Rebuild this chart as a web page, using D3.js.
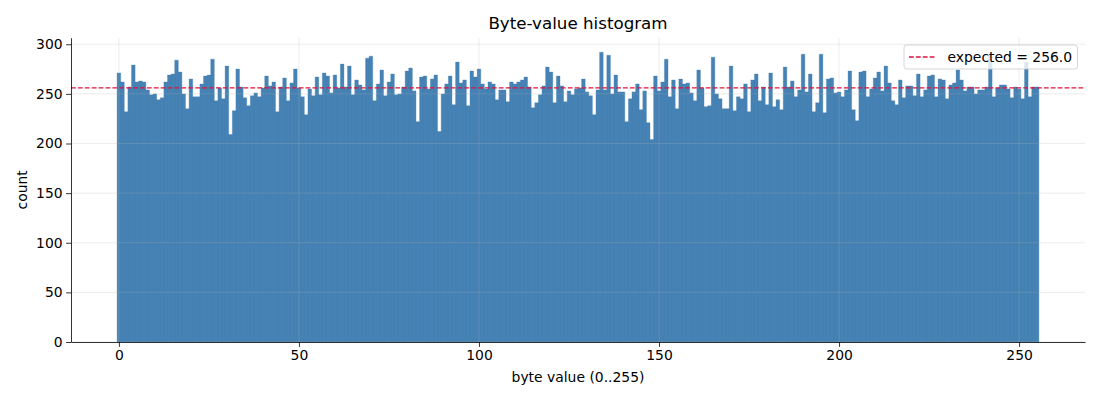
<!DOCTYPE html>
<html>
<head>
    <title>Byte-value histogram</title>
    <style>
        body { margin: 0; background: #fff; }
        text { font-family: "DejaVu Sans", sans-serif; fill: #000; }
    </style>
    <script src="https://d3js.org/d3.v7.min.js"></script>
</head>
<body>
    <div id="chart"></div>

    <script>
// counts per byte value
var counts = [
    271, 262, 232, 257, 279, 262, 263, 262, 254, 249, 250, 244, 246, 262, 269, 270,
    284, 272, 250, 235, 265, 247, 247, 260, 268, 269, 285, 243, 256, 245, 278, 209,
    233, 275, 257, 246, 238, 248, 251, 247, 256, 268, 258, 262, 232, 257, 266, 243,
    261, 275, 256, 247, 229, 255, 248, 267, 249, 271, 268, 251, 269, 256, 280, 257,
    278, 249, 264, 259, 254, 286, 288, 243, 260, 274, 248, 262, 270, 249, 250, 257,
    273, 276, 253, 222, 267, 268, 255, 265, 269, 212, 250, 260, 268, 239, 282, 261,
    264, 238, 273, 267, 275, 260, 255, 262, 260, 244, 254, 254, 242, 262, 260, 262,
    264, 267, 257, 236, 241, 249, 258, 277, 272, 241, 268, 258, 242, 253, 249, 255,
    256, 265, 252, 248, 229, 254, 292, 254, 289, 250, 269, 252, 252, 222, 245, 252,
    260, 234, 253, 221, 204, 268, 253, 262, 285, 247, 264, 235, 265, 260, 261, 251,
    243, 274, 256, 237, 238, 287, 250, 245, 235, 235, 278, 233, 247, 245, 260, 232,
    264, 270, 243, 257, 239, 271, 237, 244, 234, 277, 257, 263, 247, 254, 290, 252,
    270, 232, 241, 290, 231, 265, 266, 251, 252, 247, 254, 273, 234, 223, 272, 273,
    247, 255, 266, 272, 253, 278, 261, 243, 239, 264, 246, 258, 258, 248, 270, 247,
    254, 268, 269, 247, 265, 264, 245, 259, 261, 274, 264, 253, 257, 257, 250, 254,
    254, 257, 290, 247, 256, 259, 259, 255, 246, 257, 255, 245, 282, 247, 257, 257
];
var byteValues = counts.map(function(d, i) { return i; });
var expected = 256.0;
var xTicks = [0, 50, 100, 150, 200, 250];
var yTicks = [0, 50, 100, 150, 200, 250, 300];

var W = 1100, H = 400;
var margin = { top: 37.7, right: 15, bottom: 58, left: 71 };
var width = W - margin.left - margin.right;
var height = H - margin.top - margin.bottom;

var svg = d3.select('#chart').append('svg')
    .attr('width', W)
    .attr('height', H);

var g = svg.append('g')
    .attr('transform', 'translate(' + margin.left + ',' + margin.top + ')');

// bins centred on the integers, with matplotlib's 5% padding
var lo = -0.5, hi = byteValues.length - 0.5;
var pad = (hi - lo) * 0.05;
var xScale = d3.scaleLinear().domain([lo - pad, hi + pad]).range([0, width]);
var yScale = d3.scaleLinear().domain([0, d3.max(counts) * 1.05]).range([height, 0]);

// one path for all bars so neighbours do not leave seams
var barPath = d3.path();
counts.forEach(function(d, i) {
    var x0 = xScale(byteValues[i] - 0.5), x1 = xScale(byteValues[i] + 0.5);
    barPath.rect(x0, yScale(d), x1 - x0, height - yScale(d));
});
g.append('path')
    .attr('d', barPath.toString())
    .attr('fill', 'steelblue')
    .attr('stroke', 'steelblue')
    .attr('stroke-width', 0.35);

// grid sits on top of the bars, like matplotlib does
g.selectAll('line.vgrid')
    .data(xTicks)
    .enter()
    .append('line')
    .attr('x1', function(d) { return xScale(d); })
    .attr('x2', function(d) { return xScale(d); })
    .attr('y1', 0)
    .attr('y2', height)
    .attr('stroke', '#b0b0b0')
    .attr('stroke-opacity', 0.3)
    .attr('stroke-width', 0.8);

g.selectAll('line.hgrid')
    .data(yTicks)
    .enter()
    .append('line')
    .attr('x1', 0)
    .attr('x2', width)
    .attr('y1', function(d) { return yScale(d); })
    .attr('y2', function(d) { return yScale(d); })
    .attr('stroke', '#b0b0b0')
    .attr('stroke-opacity', 0.3)
    .attr('stroke-width', 0.8);

g.append('line')
    .attr('x1', 0)
    .attr('x2', width)
    .attr('y1', yScale(expected))
    .attr('y2', yScale(expected))
    .attr('stroke', 'crimson')
    .attr('stroke-width', 1.3)
    .attr('stroke-dasharray', '4.8,2.1');

var xAxis = d3.axisBottom(xScale).tickValues(xTicks).tickSizeInner(4.9).tickSizeOuter(0).tickPadding(3.5);
var yAxis = d3.axisLeft(yScale).tickValues(yTicks).tickSizeInner(4.9).tickSizeOuter(0).tickPadding(3.5);

var gx = g.append('g')
    .attr('transform', 'translate(0,' + height + ')')
    .call(xAxis);
var gy = g.append('g').call(yAxis);

[gx, gy].forEach(function(a) {
    a.selectAll('text').style('font-size', '13.9px').style('font-family', '"DejaVu Sans", sans-serif').attr('fill', '#000');
    a.selectAll('line').attr('stroke', '#000').attr('stroke-width', 0.8);
    a.select('.domain').attr('stroke', '#000').attr('stroke-width', 0.8);
});

// legend
var legend = g.append('g').attr('transform', 'translate(' + (width - 181) + ',7.3)');
legend.append('rect')
    .attr('width', 173.5)
    .attr('height', 24)
    .attr('rx', 2.8)
    .attr('fill', 'white')
    .attr('fill-opacity', 0.8)
    .attr('stroke', '#cccccc')
    .attr('stroke-width', 0.8);
legend.append('line')
    .attr('x1', 5)
    .attr('x2', 32.5)
    .attr('y1', 12)
    .attr('y2', 12)
    .attr('stroke', 'crimson')
    .attr('stroke-width', 1.3)
    .attr('stroke-dasharray', '4.8,2.1');
legend.append('text')
    .attr('x', 43.5)
    .attr('y', 17)
    .style('font-size', '13.9px')
    .text('expected = ' + expected.toFixed(1));

svg.append('text')
    .attr('x', margin.left + width / 2)
    .attr('y', 29)
    .attr('text-anchor', 'middle')
    .style('font-size', '16.7px')
    .text('Byte-value histogram');

svg.append('text')
    .attr('x', margin.left + width / 2)
    .attr('y', 382)
    .attr('text-anchor', 'middle')
    .style('font-size', '13.9px')
    .text('byte value (0..255)');

svg.append('text')
    .attr('transform', 'rotate(-90)')
    .attr('x', -(margin.top + height / 2))
    .attr('y', 27)
    .attr('text-anchor', 'middle')
    .style('font-size', '13.9px')
    .text('count');
    </script>
</body>
</html>
